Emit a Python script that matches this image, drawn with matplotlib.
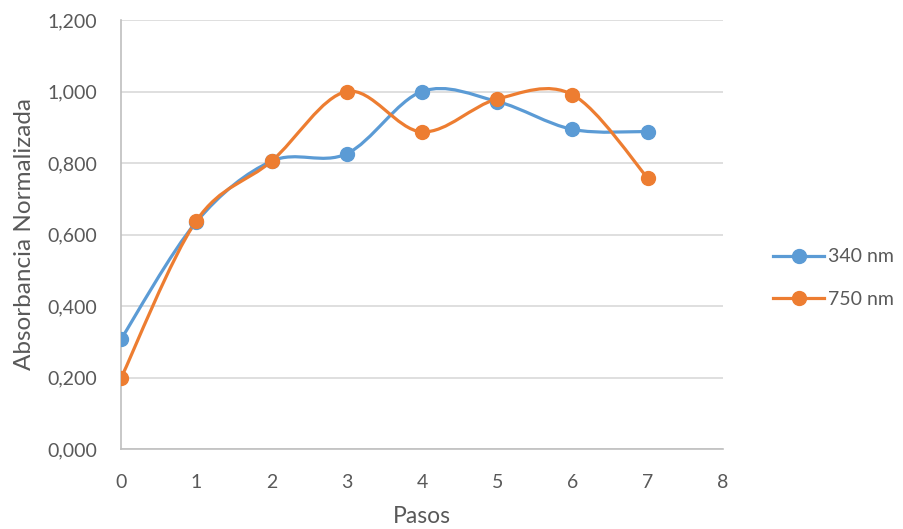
import numpy as np
from matplotlib import pyplot as plt
from matplotlib.path import Path
from matplotlib.patches import PathPatch
from matplotlib.lines import Line2D

pasos = [0, 1, 2, 3, 4, 5, 6, 7]
abs_340 = [0.307, 0.635, 0.805, 0.826, 1.000, 0.972, 0.894, 0.888]
abs_750 = [0.198, 0.638, 0.805, 1.000, 0.887, 0.979, 0.991, 0.758]
series_names = ['340 nm', '750 nm']
colors = ['#5B9BD5', '#ED7D31']
y_ticks = [0.0, 0.2, 0.4, 0.6, 0.8, 1.0, 1.2]

plt.rcParams['font.family'] = ['Lato', 'DejaVu Sans']
text_color = '#595959'


def smooth_path(xs, ys):
    # cubic bezier through every point, catmull-rom style tangents
    pts = np.column_stack([xs, ys]).astype(float)
    padded = np.vstack([pts[0], pts, pts[-1]])
    verts = [pts[0]]
    codes = [Path.MOVETO]
    for i in range(len(pts) - 1):
        p0, p1, p2, p3 = padded[i], padded[i + 1], padded[i + 2], padded[i + 3]
        c1 = p1 + (p2 - p0) / 6.0
        c2 = p2 - (p3 - p1) / 6.0
        verts += [c1, c2, p2]
        codes += [Path.CURVE4] * 3
    return Path(verts, codes)


fig = plt.figure(figsize=(9.04, 5.29), dpi=100)
ax = fig.add_axes([121 / 904, 80 / 529, 602 / 904, 429 / 529])

for ys, c in zip([abs_340, abs_750], colors):
    ax.add_patch(PathPatch(smooth_path(pasos, ys), facecolor='none', edgecolor=c,
                           lw=2.3, capstyle='round', zorder=3))
    ax.plot(pasos, ys, 'o', color=c, markersize=10, zorder=4)

ax.set_xlim(0, 8)
ax.set_ylim(0, 1.2)
ax.set_xticks(range(0, 9))
ax.set_yticks(y_ticks)
ax.set_yticklabels([f'{v:.3f}'.replace('.', ',') for v in y_ticks])
ax.tick_params(length=0, labelsize=14, colors=text_color)
ax.tick_params(axis='y', pad=17)
ax.tick_params(axis='x', pad=18)
ax.grid(axis='y', color='#d9d9d9', lw=1.2)
ax.set_axisbelow(True)
for s in ['top', 'right']:
    ax.spines[s].set_visible(False)
for s in ['left', 'bottom']:
    ax.spines[s].set_color('#bfbfbf')
    ax.spines[s].set_linewidth(1.2)

ax.set_xlabel('Pasos', fontsize=16.5, color=text_color, labelpad=11)
ax.set_ylabel('Absorbancia Normalizada', fontsize=17.5, color=text_color, labelpad=9)

handles = [Line2D([], [], color=c, lw=2.3, marker='o', markersize=10) for c in colors]
fig.legend(handles, series_names, loc='center left', bbox_to_anchor=(756 / 904, 1 - 278 / 529),
           frameon=False, fontsize=14, labelcolor=text_color, handlelength=2.6,
           handletextpad=0.2, labelspacing=1.3)

fig.savefig('out.png', dpi=100)
